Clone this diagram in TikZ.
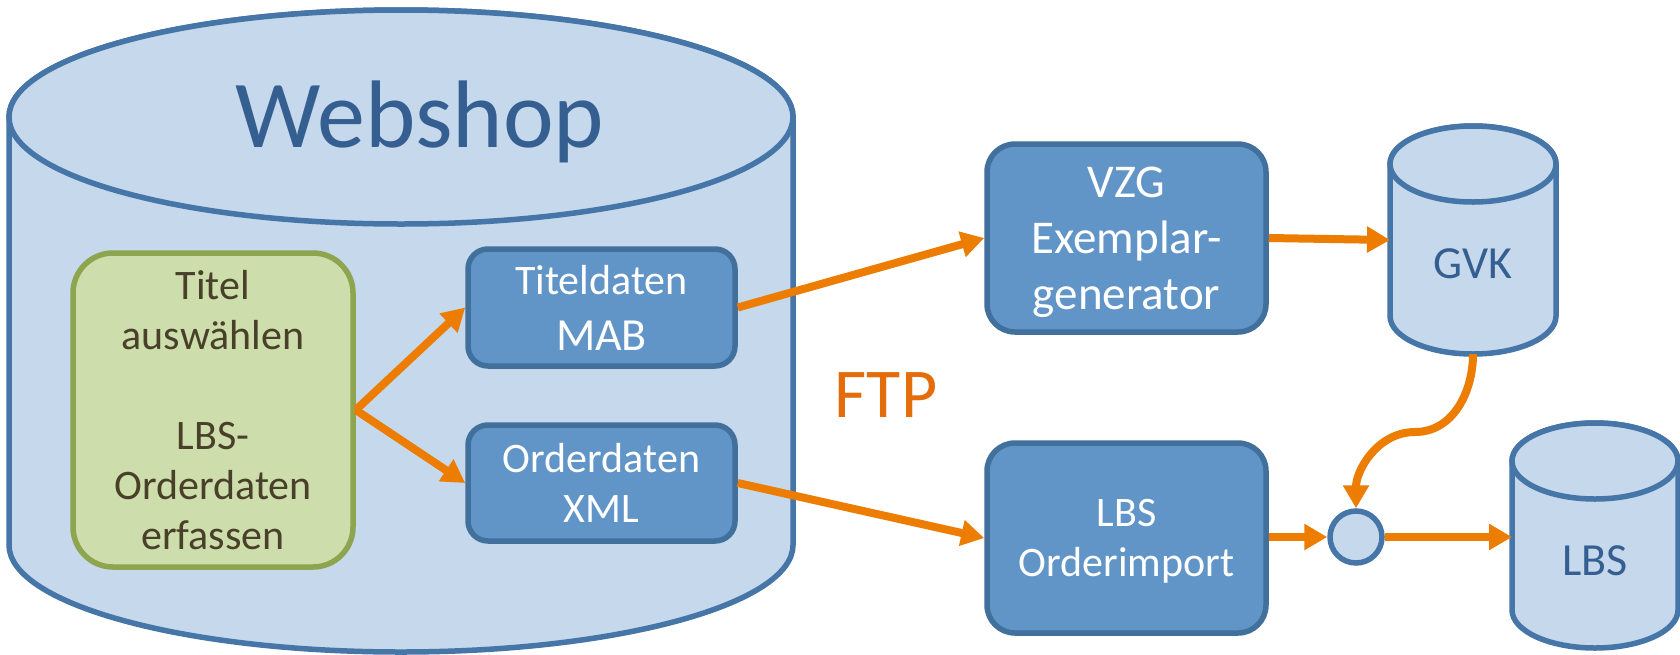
\documentclass[tikz,border=0pt]{standalone}
\usepackage{fontspec}
\setmainfont{Carlito}
\usetikzlibrary{arrows.meta}
\definecolor{cylfill}{HTML}{C5D8EC}
\definecolor{cylline}{HTML}{4675A8}
\definecolor{boxfill}{HTML}{6195C8}
\definecolor{boxline}{HTML}{42709C}
\definecolor{bluetext}{HTML}{365F91}
\definecolor{greenfill}{HTML}{CDDDAC}
\definecolor{greenline}{HTML}{8EA54F}
\definecolor{greentext}{HTML}{49402A}
\definecolor{arrcol}{HTML}{EC7D00}
\definecolor{ftpcol}{HTML}{E46C0A}
\newcommand\drawcyl[5]{%
  \path[cylbody] (#1-#2,#3) -- (#1-#2,#4)
    arc[start angle=180,end angle=360,x radius=#2pt,y radius=#5pt]
    -- (#1+#2,#3)
    arc[start angle=0,end angle=180,x radius=#2pt,y radius=#5pt] -- cycle;
  \path[cylbody] (#1,#3) ellipse[x radius=#2pt,y radius=#5pt];
}
\tikzset{
  cylbody/.style={fill=cylfill, draw=cylline, line width=5.5pt},
  cylnode/.style={rectangle, inner sep=0pt, outer sep=0pt, text=bluetext,
    font=\fontsize{46}{56}\selectfont, text depth=0pt},
  greenbox/.style={rectangle, rounded corners=40pt, fill=greenfill, draw=greenline,
    line width=5.5pt, text=greentext, align=center, inner sep=0pt,
    font=\fontsize{42}{50}\selectfont},
  bluebox/.style={rectangle, rounded corners=20pt, fill=boxfill, draw=boxline,
    line width=5.5pt, text=white, align=center, inner sep=0pt,
    font=\fontsize{42}{50}\selectfont},
  bigbox/.style={bluebox, rounded corners=28pt},
  junction/.style={circle, fill=cylfill, draw=cylline, line width=5.5pt,
    minimum size=52pt, inner sep=0pt},
  arr/.style={draw=arrcol, line width=8pt, -{Triangle[length=23pt,width=25pt]}},
}
\begin{document}
\begin{tikzpicture}[x=1pt,y=-1pt]
\useasboundingbox (0,0) rectangle (1680,654);
\fill[white] (0,0) rectangle (1680,654);

% Webshop cylinder
\drawcyl{401}{392}{117}{545}{107}
\node[anchor=base, text=bluetext, font=\fontsize{96}{110}\selectfont, inner sep=0pt]
  (webshop) at (420,147) {Webshop};

% boxes inside webshop
\node[greenbox, minimum width=280pt, minimum height=314pt] (green) at (213,410)
  {Titel\\auswählen\\[50pt]LBS-\\Orderdaten\\erfassen};
\node[bluebox, minimum width=267pt, minimum height=117pt, font=\fontsize{42}{56}\selectfont]
  (tit) at (601.5,307.5) {Titeldaten\\{\fontsize{46}{56}\selectfont MAB}};
\node[bluebox, minimum width=267pt, minimum height=116pt] (ord) at (601.5,483)
  {Orderdaten\\XML};

% right boxes
\node[bigbox, minimum width=279pt, minimum height=188pt, font=\fontsize{47}{56}\selectfont,
  text depth=0pt] (vzg) at (1126.5,238) {VZG\\Exemplar-\\generator};
\node[bigbox, minimum width=279pt, minimum height=190pt, text depth=0pt]
  (oim) at (1126.5,538) {LBS\\Orderimport};

% GVK cylinder
\drawcyl{1473}{83}{164}{316}{38}
\node[cylnode, minimum width=166pt, minimum height=228pt, text height=76pt]
  (gvk) at (1473,240) {GVK};

% LBS cylinder
\drawcyl{1595}{83}{461}{610}{38}
\node[cylnode, minimum width=166pt, minimum height=225pt, text height=79pt]
  (lbs) at (1595,535.5) {LBS};

% junction
\node[junction] (jn) at (1356,537) {};

% FTP label
\node[anchor=base, text=ftpcol, font=\fontsize{70}{84}\selectfont, inner sep=0pt]
  (ftp) at (886,417) {FTP};

% connectors
\draw[arr] (green.east) -- (tit.west);
\draw[arr] (green.east) -- (ord.west);
\draw[arr] (tit.east) -- (vzg.west);
\draw[arr] (ord.east) -- (oim.west);
\draw[arr] (vzg.east) -- (gvk.west);
\draw[arr] (oim.east |- jn.west) -- (jn.west);
\draw[arr] (jn.east) -- (jn.east -| lbs.west);
\coordinate (bend) at (1415,432);
\draw[arr] (gvk.south) to[out=-90,in=0] (bend) to[out=180,in=90] (jn.north);
\end{tikzpicture}
\end{document}
